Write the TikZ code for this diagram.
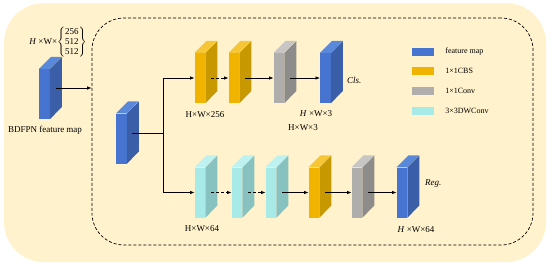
\documentclass[tikz,border=0pt]{standalone}
\usepackage{fontspec}
\setmainfont{Liberation Serif}
\usetikzlibrary{arrows.meta,positioning}

\definecolor{bgcream}{HTML}{FFF2CC}
\definecolor{blueF}{HTML}{4674D0}
\definecolor{blueS}{HTML}{3A5FA8}
\definecolor{blueT}{HTML}{5A88DA}
\definecolor{goldF}{HTML}{F0B400}
\definecolor{goldS}{HTML}{C89800}
\definecolor{goldT}{HTML}{F6C636}
\definecolor{greyF}{HTML}{B0ADAD}
\definecolor{greyS}{HTML}{8E8B8B}
\definecolor{greyT}{HTML}{C8C5C5}
\definecolor{cyanF}{HTML}{A8EAE8}
\definecolor{cyanS}{HTML}{88C2C0}
\definecolor{cyanT}{HTML}{BEF2F0}

% one 3D slab: name, position, colour family
\newcommand{\slab}[3]{%
  \node[slab, fill=#3F] (#1) at (#2) {};
  \fill[#3S] (#1.north east) -- ++(12pt,12pt) -- ++(0,-50pt) -- (#1.south east) -- cycle;
  \fill[#3T] (#1.north west) -- ++(12pt,12pt) -- ++(10.5pt,0) -- (#1.north east) -- cycle;
}

\begin{document}
\begin{tikzpicture}[
  x=1pt, y=-1pt,
  every node/.style={font=\fontsize{9}{10}\selectfont},
  slab/.style={minimum width=10.5pt, minimum height=50pt, inner sep=0pt, draw=none},
  rel/.style={-{Latex[length=4.5pt,width=3.5pt]}, line width=0.7pt},
  relx/.style={rel, densely dashed},
  key/.style={minimum width=22pt, minimum height=8pt, inner sep=0pt},
  keytext/.style={font=\fontsize{8}{9}\selectfont, inner sep=0pt},
  note/.style={inner sep=1pt}
]
\useasboundingbox (0,0) rectangle (550,266);
\node[fill=bgcream, rounded corners=40pt, minimum width=542pt, minimum height=259pt, inner sep=0pt] (panel) at (275,132.5) {};
\node[draw, line width=0.7pt, dash pattern=on 3pt off 2pt, rounded corners=32pt, minimum width=441pt, minimum height=227pt, inner sep=0pt] (head) at (312.5,131.5) {};

\slab{inmap}{44.5,94}{blue}
\slab{feat}{121.5,138.5}{blue}
\slab{cbsA}{200,78}{gold}
\slab{cbsB}{234,78}{gold}
\slab{convA}{279,78}{grey}
\slab{cls}{325.5,78}{blue}
\slab{dwA}{200,192.5}{cyan}
\slab{dwB}{237,192.5}{cyan}
\slab{dwC}{271,192.5}{cyan}
\slab{cbsC}{314,192.5}{gold}
\slab{convB}{357,192.5}{grey}
\slab{reg}{402,192.5}{blue}

\node[note] (intext) at (58,42) {\textit{H} ×W×$\left\{\begin{tabular}{@{}c@{}}256\\512\\512\end{tabular}\right\}$};
\node[note] (inname) at (45,130) {BDFPN feature map};
\node[note] (clsA) at (205,115) {H×W×256};
\node[note] (clsB) at (316,114) {\textit{H} ×W×3};
\node[note] (clsC) at (303,128) {H×W×3};
\node[note, anchor=west] (clsname) at (346,80) {\textit{Cls.}};
\node[note] (regA) at (202,229) {H×W×64};
\node[note] (regB) at (416,230) {\textit{H} ×W×64};
\node[note, anchor=west] (regname) at (424,184) {\textit{Reg.}};

\node[key, fill=blueF] (k1) at (423,52) {};
\node[key, fill=goldF] (k2) at (423,71) {};
\node[key, fill=greyF] (k3) at (423,91) {};
\node[key, fill=cyanF] (k4) at (423,111) {};
\node[keytext, right=11pt of k1] (t1) {feature map};
\node[keytext, right=11pt of k2] (t2) {1×1CBS};
\node[keytext, right=11pt of k3] (t3) {1×1Conv};
\node[keytext, right=11pt of k4] (t4) {3×3DWConv};

\draw[rel] ([xshift=6pt,yshift=6pt]inmap.east) coordinate (p0) -- (p0 -| head.west);
\draw[rel] ([xshift=5pt,yshift=5pt]feat.east) -- ++(31,0) coordinate (fork) |- (cbsA.west);
\draw[rel] (fork) |- (dwA.west);
\draw[relx] ([xshift=6pt]cbsA.east) -- (cbsB.west);
\draw[rel] ([xshift=6pt]cbsB.east) -- (convA.west);
\draw[rel] ([xshift=6pt]convA.east) -- (cls.west);
\draw[relx] ([xshift=6pt]dwA.east) -- (dwB.west);
\draw[relx] ([xshift=6pt]dwB.east) -- (dwC.west);
\draw[rel] ([xshift=6pt]dwC.east) -- (cbsC.west);
\draw[rel] ([xshift=6pt]cbsC.east) -- (convB.west);
\draw[rel] ([xshift=6pt]convB.east) -- (reg.west);
\end{tikzpicture}
\end{document}
